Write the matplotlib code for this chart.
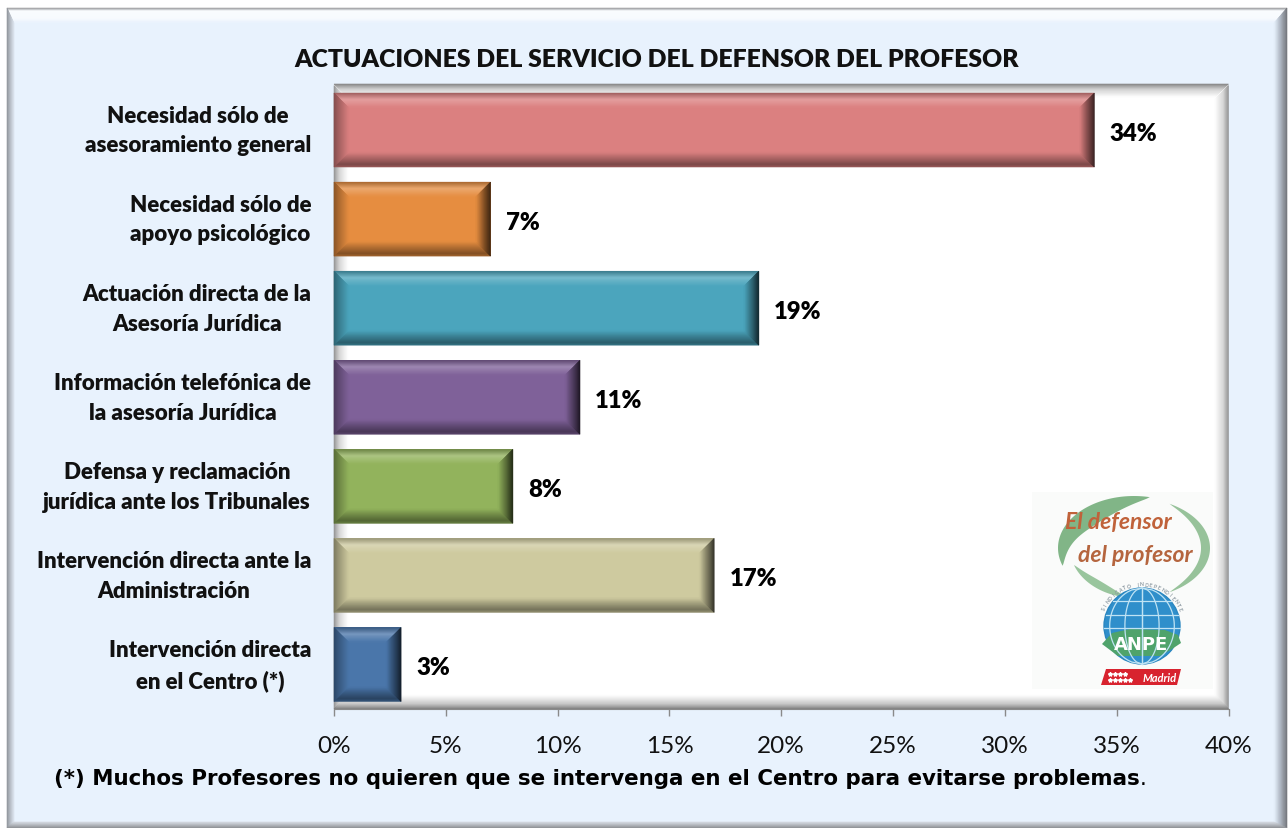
import numpy as np
import matplotlib
matplotlib.use('Agg')
import matplotlib.pyplot as plt
from matplotlib.colors import to_rgb
from matplotlib.patches import Polygon, Rectangle, Circle
from matplotlib.transforms import ScaledTranslation

categorias = ['Necesidad sólo de\nasesoramiento general', 'Necesidad sólo de\napoyo psicológico',
              'Actuación directa de la\nAsesoría Jurídica', 'Información telefónica de\nla asesoría Jurídica',
              'Defensa y reclamación\njurídica ante los Tribunales', 'Intervención directa ante la\nAdministración',
              'Intervención directa\nen el Centro (*)']
valores = [34, 7, 19, 11, 8, 17, 3]
colores = ['#DB8080', '#E68D40', '#4BA5BD', '#7F6199', '#92B35C', '#CECA9F', '#4A76AA']
ticks = [0, 5, 10, 15, 20, 25, 30, 35, 40]
titulo = 'ACTUACIONES DEL SERVICIO DEL DEFENSOR DEL PROFESOR'
nota = '(*) Muchos Profesores no quieren que se intervenga en el Centro para evitarse problemas'

W, H = 1288, 829
FONDO = '#E8F2FD'
plt.rcParams['font.family'] = ['Lato', 'DejaVu Sans']

fig = plt.figure(figsize=(W / 100, H / 100), dpi=100, facecolor='white')


def capa(z):
    # ejes en pixeles para lo decorativo
    a = fig.add_axes([0, 0, 1, 1], zorder=z)
    a.set_xlim(0, W)
    a.set_ylim(H, 0)
    a.axis('off')
    return a


def mezcla(c, f):
    # f<1 oscurece, f>1 aclara hacia blanco
    c = np.array(to_rgb(c))
    return c * f if f <= 1 else c + (1 - c) * (f - 1)


def degradado(a, p1, p2, p3, p4, paradas, n=16):
    # franjas entre el borde p1-p2 y el borde p4-p3
    p1, p2, p3, p4 = map(np.array, (p1, p2, p3, p4))
    pos = [s[0] for s in paradas]
    cols = np.array([to_rgb(s[1]) for s in paradas])
    for i in range(n):
        t0, t1 = i / n, (i + 1) / n
        tm = (t0 + t1) / 2
        col = [np.interp(tm, pos, cols[:, k]) for k in range(3)]
        quad = [p1 + (p4 - p1) * t0, p2 + (p3 - p2) * t0, p2 + (p3 - p2) * t1, p1 + (p4 - p1) * t1]
        a.add_patch(Polygon(quad, closed=True, fc=col, ec=col, lw=0.4))


def biselar(a, x0, y0, x1, y1, c, b=15):
    degradado(a, (x0, y0), (x1, y0), (x1 - b, y0 + b), (x0 + b, y0 + b),
              [(0, mezcla(c, .72)), (.45, mezcla(c, 1.25)), (1, c)])
    degradado(a, (x0, y1), (x1, y1), (x1 - b, y1 - b), (x0 + b, y1 - b),
              [(0, mezcla(c, .72)), (.2, mezcla(c, .55)), (1, c)])
    degradado(a, (x0, y0), (x0, y1), (x0 + b, y1 - b), (x0 + b, y0 + b),
              [(0, mezcla(c, .6)), (1, c)])
    degradado(a, (x1, y0), (x1, y1), (x1 - b, y1 - b), (x1 - b, y0 + b),
              [(0, mezcla(c, .22)), (1, c)])


fondo = capa(0)
# marco exterior
fondo.add_patch(Rectangle((7, 9), 1280, 820, fc=FONDO, ec='none'))
degradado(fondo, (7, 9), (1287, 9), (1274, 24), (14, 24),
          [(0, '#9A9A9A'), (.1, '#B5B8BC'), (.2, '#FBFDFF'), (.75, '#F8FBFF'), (1, FONDO)])
degradado(fondo, (7, 9), (7, 829), (14, 823), (14, 24), [(0, '#8C9096'), (1, '#DCE4EE')], n=8)
degradado(fondo, (1287, 9), (1287, 829), (1274, 823), (1274, 24),
          [(0, '#6E7074'), (.5, '#A9B1BD'), (1, FONDO)])
degradado(fondo, (7, 829), (1287, 829), (1274, 823), (14, 823), [(0, '#8A8C90'), (1, '#D5DBE3')], n=6)

# area del grafico con sombra interior
X0, X1, Y0, Y1 = 334, 1228.5, 86.5, 710
fondo.add_patch(Rectangle((X0, Y0 - 1.5), X1 - X0, Y1 - Y0 + 1.5, fc='white', ec='none'))
degradado(fondo, (X0, Y0), (X0, Y1), (X0 + 14, Y1 - 14), (X0 + 14, Y0 + 14),
          [(0, '#8E8E8E'), (.4, '#D5D5D5'), (1, '#FFFFFF')])
degradado(fondo, (X1, Y0), (X1, Y1), (X1 - 14, Y1 - 14), (X1 - 14, Y0 + 14),
          [(0, '#8E8E8E'), (.4, '#D5D5D5'), (1, '#FFFFFF')])
degradado(fondo, (X0, Y0 - 1.5), (X1, Y0 - 1.5), (X1 - 14, Y0 + 12), (X0 + 14, Y0 + 12),
          [(0, '#7E7E7E'), (.4, '#CFCFCF'), (1, '#FFFFFF')])
degradado(fondo, (X0, Y1), (X1, Y1), (X1 - 14, Y1 - 14), (X0 + 14, Y1 - 14),
          [(0, '#777777'), (.4, '#C8C8C8'), (1, '#FFFFFF')])

ax = fig.add_axes([X0 / W, 1 - Y1 / H, (X1 - X0) / W, (Y1 - Y0) / H], zorder=1)
ax.patch.set_alpha(0)
pos = np.arange(len(valores))
barras = ax.barh(pos, valores, height=0.83, color=colores, linewidth=0)
ax.set_ylim(len(valores) - 0.5, -0.5)
ax.set_xlim(0, 40)
ax.set_xticks(ticks)
ax.set_xticklabels([f'{t}%' for t in ticks], fontsize=17.5, color='#111111')
ax.set_yticks(pos)
ax.set_yticklabels(categorias, fontsize=16, fontweight='heavy', color='#111111',
                   multialignment='center', linespacing=1.5)
ax.tick_params(axis='y', length=0, pad=16.5)
ax.tick_params(axis='x', length=5, width=1, color='#8A8A8A', pad=13.5)
for s in ['top', 'right', 'left']:
    ax.spines[s].set_visible(False)
ax.spines['bottom'].set_color('#8A8A8A')
# las etiquetas de dos lineas quedan bajas, se suben un poco
sube = ScaledTranslation(0, 4.4 / 72, fig.dpi_scale_trans)
for lab in ax.get_yticklabels():
    lab.set_transform(lab.get_transform() + sube)
for v, p in zip(valores, pos):
    ax.annotate(f'{v}%', (v, p), xytext=(11, -2), textcoords='offset points', va='center',
                fontsize=17.2, fontweight='heavy', color='black')

sobre = capa(2)
fig.canvas.draw()
for b, c in zip(barras, colores):
    (xa, ya), (xb, yb) = ax.transData.transform([(b.get_x(), b.get_y()),
                                                 (b.get_x() + b.get_width(), b.get_y() + b.get_height())])
    biselar(sobre, xa, H - ya, xb, H - yb, c)

sobre.text(657, 60, titulo, ha='center', va='center', fontsize=17.8, fontweight='heavy', color='#111111')
t = sobre.text(54, 779, nota, ha='left', va='center', fontsize=15.4, fontweight='bold',
               family='DejaVu Sans', color='black')
sobre.annotate('.', xy=(1, 0), xycoords=t, va='bottom', ha='left', fontsize=15.4,
               family='DejaVu Sans', color='black')

# logo
sobre.add_patch(Rectangle((1032, 493), 181, 197, fc='#FAFBFA', ec='none'))


def arco(cx, cy, rx, ry, a0, a1, gmax, color):
    # creciente verde, angulos en grados
    th = np.radians(np.linspace(a0, a1, 60))
    g = gmax * np.sin(np.linspace(0, np.pi, 60)) ** 0.8
    ext = np.c_[cx + rx * np.cos(th), cy - ry * np.sin(th)]
    inte = np.c_[cx + (rx - g) * np.cos(th), cy - (ry - g) * np.sin(th)]
    sobre.add_patch(Polygon(np.r_[ext, inte[::-1]], closed=True, fc=color, ec='none', alpha=.9))


arco(1134, 549, 76, 52, 78, 200, 20, '#74AE7B')
arco(1136, 549, 66, 50, 200, 262, 8, '#8FBF93')
arco(1134, 549, 76, 50, 62, -62, 9, '#8CBC90')
sobre.text(1118, 523, 'El defensor', ha='center', va='center', fontsize=16.5, style='italic',
           fontweight='bold', color='#C0623A')
sobre.text(1135, 555, 'del profesor', ha='center', va='center', fontsize=16.5, style='italic',
           fontweight='bold', color='#B5653E')

gx, gy, gr = 1142, 627, 38
sobre.add_patch(Circle((gx, gy), gr, fc='#2F8FCB', ec='#2A86C0', lw=1))
for k in (-.65, -.3, .05):
    d = gr * np.sqrt(1 - k ** 2)
    sobre.plot([gx - d, gx + d], [gy + k * gr, gy + k * gr], color='#BFE3F4', lw=.9)
yy = np.linspace(-1, 1, 40)
for k in (0, .45, .85):
    for s in (-1, 1):
        sobre.plot(gx + s * k * gr * np.sqrt(1 - yy ** 2), gy + yy * gr, color='#BFE3F4', lw=.9)
sobre.add_patch(Polygon([(1102, 645), (1112, 634), (1130, 630), (1165, 631), (1178, 636), (1181, 644),
                         (1172, 650), (1160, 657), (1118, 657)], closed=True, fc='#4FA36B', ec='none'))
sobre.text(1141, 645, 'ANPE', ha='center', va='center', fontsize=13, fontweight='bold',
           color='white', family='DejaVu Sans')
for i, letra in enumerate('SINDICATO INDEPENDIENTE'):
    ang = np.radians(155 - i * 130 / 22)
    sobre.text(gx + (gr + 4) * np.cos(ang), gy - (gr + 4) * np.sin(ang), letra, fontsize=3.6,
               ha='center', va='center', color='#8A97A0', rotation=np.degrees(ang) - 90,
               fontweight='bold')
sobre.add_patch(Polygon([(1106, 670), (1181, 670), (1177, 686), (1101, 686)], closed=True, fc='#D8232F', ec='none'))
sobre.text(1160, 678, 'Madrid', ha='center', va='center', fontsize=8, style='italic',
           fontweight='bold', color='white')
for fila, yf in enumerate((675, 681)):
    for i in range(5 if fila else 4):
        sobre.plot(1110 + i * 5, yf, marker='*', ms=3, color='white', ls='none')

sobre.set_xlim(0, W)
sobre.set_ylim(H, 0)
fig.savefig('out.png', dpi=100, facecolor='white')
